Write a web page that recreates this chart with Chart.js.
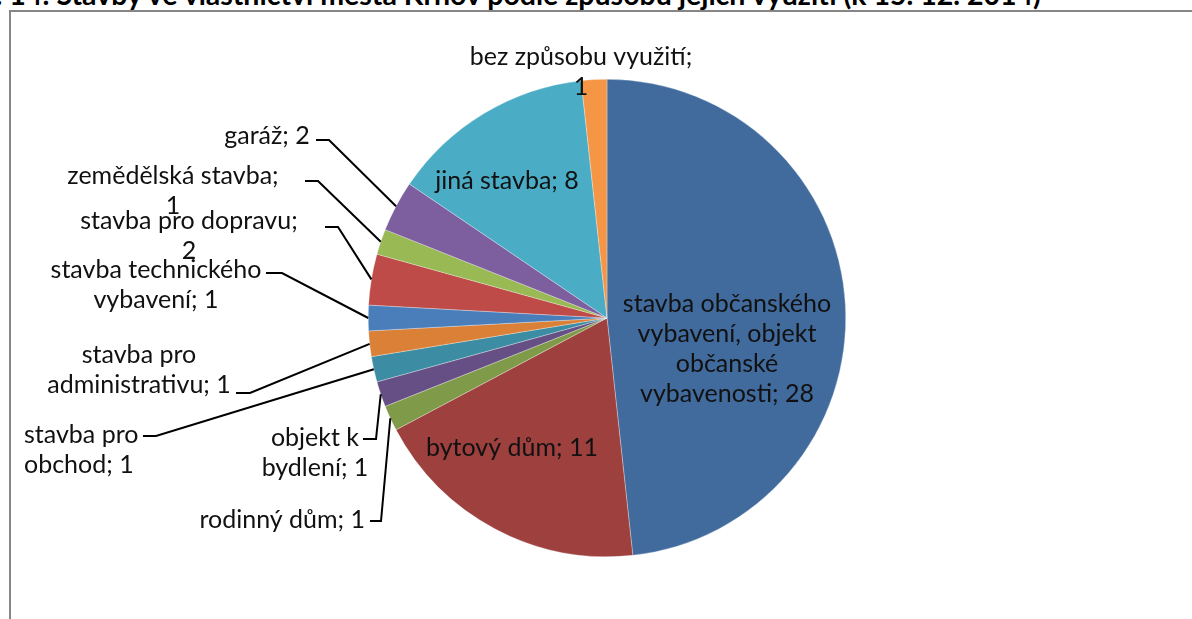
<!DOCTYPE html>
<html lang="cs">
<head>
<meta charset="utf-8">
<script src="https://cdn.jsdelivr.net/npm/chart.js@4.4.1/dist/chart.umd.min.js"></script>
<style>
html, body { margin: 0; padding: 0; background: #fff; overflow: hidden; }
#wrap { position: relative; width: 1192px; height: 619px; overflow: hidden; }
#title { position: absolute; left: -80px; top: -23px; white-space: nowrap; font: bold 28.5px Lato, sans-serif; line-height: 34px; color: #000; }
#frame { position: absolute; left: 9px; top: 10px; width: 1300px; height: 800px; border: 2px solid #868686; }
#chart { position: absolute; left: 0; top: 0; }
</style>
</head>
<body>
<div id="wrap">
  <div id="title">Graf č. 14: Stavby ve vlastnictví města Krnov podle způsobu jejich využití (k 15. 12. 2014)</div>
  <div id="frame"></div>
  <canvas id="chart" width="1192" height="619"></canvas>
</div>
<script>
// data - stavby podle způsobu využití
var categories = [
    'stavba občanského vybavení, objekt občanské vybavenosti',
    'bytový dům',
    'rodinný dům',
    'objekt k bydlení',
    'stavba pro obchod',
    'stavba pro administrativu',
    'stavba technického vybavení',
    'stavba pro dopravu',
    'zemědělská stavba',
    'garáž',
    'jiná stavba',
    'bez způsobu využití'
];
var counts = [28, 11, 1, 1, 1, 1, 1, 2, 1, 2, 8, 1];
var sliceColors = ['#416A9D', '#9D403E', '#7F9A48', '#664F84', '#3C8DA3', '#DA8137',
                   '#4A7EBB', '#BE4B48', '#98B954', '#7D5FA0', '#4AACC5', '#F59646'];

// rozmístění popisků: střed/okraj první řádky, slov na řádek, lomená vodicí čára
var labelLayout = [
    { x: 727, y: 304, align: 'center', words: [2, 2, 1, 2] },
    { x: 512, y: 448, align: 'center' },
    { x: 365, y: 520, align: 'right', leader: [370, 521, 381, 521] },
    { x: 315, y: 438, align: 'center', words: [2, 2], leader: [363, 439, 376, 439] },
    { x: 24, y: 435, align: 'left', words: [2, 2], leader: [143, 436, 156, 436] },
    { x: 139, y: 355, align: 'center', words: [2, 2], leader: [236, 393, 250, 393] },
    { x: 156, y: 270, align: 'center', words: [2, 2], leader: [266, 273, 282, 273] },
    { x: 189, y: 221, align: 'center', words: [3, 1], leader: [325, 227, 338, 227] },
    { x: 173, y: 176, align: 'center', words: [2, 1], leader: [305, 181, 318, 181] },
    { x: 267, y: 136, align: 'center', leader: [316, 140, 329, 140] },
    { x: 507, y: 181, align: 'center' },
    { x: 581, y: 57, align: 'center', words: [3, 1] }
];
var lineHeight = 30;

// rozdělení textu podle počtu slov
function splitLines(text, words) {
    var parts = text.split(' ');
    if (!words) return [text];
    var lines = [], k = 0;
    words.forEach(function(n) {
        lines.push(parts.slice(k, k + n).join(' '));
        k += n;
    });
    return lines;
}

// popisky s vodicími čarami
var pieLabels = {
    id: 'pieLabels',
    afterDatasetsDraw: function(chart) {
        var ctx = chart.ctx;
        var meta = chart.getDatasetMeta(0);
        ctx.save();
        ctx.font = '25px Lato, sans-serif';
        ctx.fillStyle = '#111';
        ctx.strokeStyle = '#000';
        ctx.lineWidth = 2;
        ctx.textBaseline = 'middle';
        meta.data.forEach(function(arc, i) {
            var lay = labelLayout[i];
            var p = arc.getProps(['x', 'y', 'startAngle', 'endAngle', 'outerRadius'], true);
            if (lay.leader) {
                var mid = (p.startAngle + p.endAngle) / 2;
                var ex = p.x + Math.cos(mid) * p.outerRadius;
                var ey = p.y + Math.sin(mid) * p.outerRadius;
                ctx.beginPath();
                ctx.moveTo(lay.leader[0], lay.leader[1]);
                ctx.lineTo(lay.leader[2], lay.leader[3]);
                ctx.lineTo(ex, ey);
                ctx.stroke();
            }
            ctx.textAlign = lay.align;
            var text = categories[i] + '; ' + counts[i];
            splitLines(text, lay.words).forEach(function(line, j) {
                ctx.fillText(line, lay.x, lay.y + j * lineHeight);
            });
        });
        ctx.restore();
    }
};

var myChart = new Chart(document.getElementById('chart'), {
    type: 'pie',
    data: {
        labels: categories,
        datasets: [{
            data: counts,
            backgroundColor: sliceColors,
            borderColor: 'rgba(255,255,255,0.6)',
            borderWidth: 0.5
        }]
    },
    options: {
        responsive: false,
        animation: false,
        layout: { padding: { left: 368, right: 346, top: 79, bottom: 62 } },
        plugins: {
            legend: { display: false },
            tooltip: { enabled: false }
        }
    },
    plugins: [pieLabels]
});
</script>
</body>
</html>
